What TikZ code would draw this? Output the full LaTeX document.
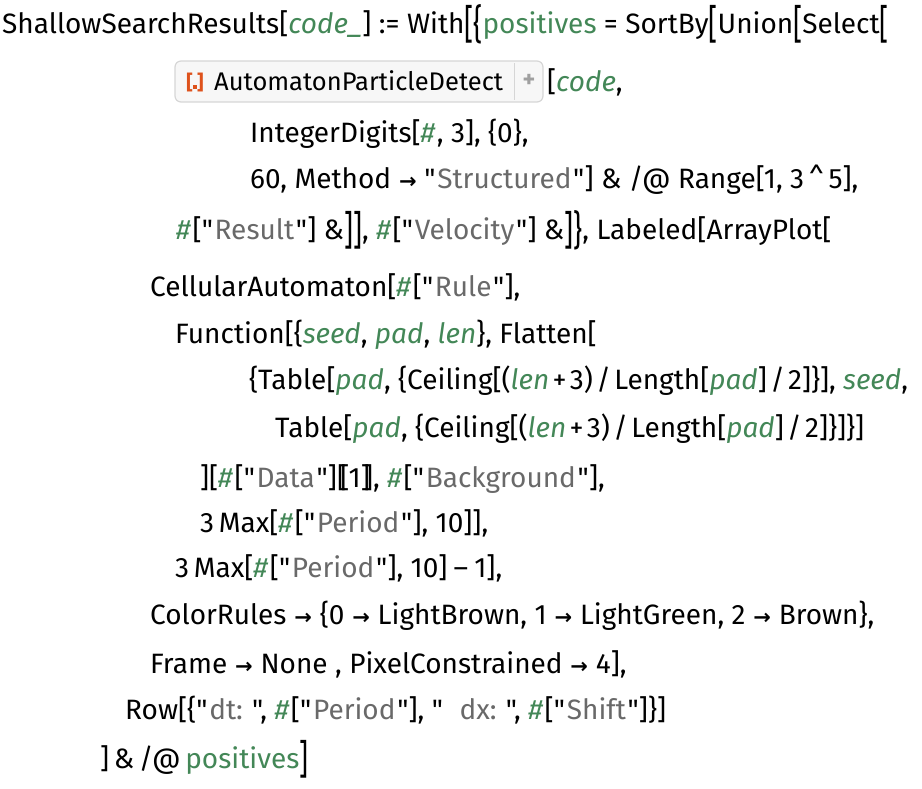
\documentclass[tikz,border=0pt]{standalone}
\usepackage{fontspec}
\setmainfont{Fira Sans}[Ligatures=TeXOff]
\newfontfamily\arrfont{DejaVu Sans}
\usepackage{graphicx}
\usetikzlibrary{positioning}
\definecolor{vargreen}{RGB}{67,135,87}
\definecolor{strgrey}{RGB}{105,105,105}
\definecolor{iconred}{RGB}{222,82,28}
\definecolor{boxfill}{RGB}{247,247,247}
\definecolor{boxedge}{RGB}{214,214,214}
\newcommand{\gv}[1]{\textcolor{vargreen}{\textit{#1}}}
\newcommand{\gn}[1]{\textcolor{vargreen}{#1}}
\newcommand{\slotsym}{\textcolor{vargreen}{\textit{\#}}\kern0.05em}
\newcommand{\strg}[1]{"\kern0.06em\textcolor{strgrey}{#1}\kern0.06em"}
\newcommand{\arr}{\hspace{0.28em}{\arrfont\bfseries\fontsize{21}{21}\selectfont →}\hspace{0.28em}}
\newcommand{\op}[1]{\kern0.12em#1\kern0.12em}
\newcommand{\tallL}{\raisebox{-0.2em}{\scalebox{1}[1.45]{[}}}
\newcommand{\tallLb}{\raisebox{-0.2em}{\scalebox{1}[1.45]{\{}}}
\newcommand{\tallR}{\raisebox{-0.2em}{\scalebox{1}[1.45]{]}}}
\newcommand{\tallRb}{\raisebox{-0.2em}{\scalebox{1}[1.45]{\}}}}
\newcommand{\dbl}[1]{[\kern-0.2em[#1]\kern-0.2em]}
\tikzset{codeline/.style={anchor=base west,inner sep=0pt,font=\fontsize{28}{30}\selectfont},
  apibox/.style={draw=boxedge,fill=boxfill,rounded corners=6pt,line width=1.2pt},
}

\begin{document}
\begin{tikzpicture}[x=1pt,y=-1pt]
\useasboundingbox (0,0) rectangle (922,788);
% the boxed function name
\draw[apibox] (175,61) rectangle (543,102);
\draw[boxedge,line width=1pt] (514,63) -- (514,100);
\node[inner sep=0pt,text=iconred,font=\fontsize{20}{20}\bfseries\selectfont] (icon) at (195,82) {[\rule{0.22em}{0.22em}]};
\node[inner sep=0pt,text=boxedge!75!black,font=\fontsize{24}{24}\bfseries\selectfont] (plus) at (529,81) {+};

\node[codeline] (1) at (2,33) {ShallowSearchResults[\gv{code\_}] := With\tallL\tallLb\gn{positives} = SortBy\tallL Union\tallL Select\tallL};
\node[codeline,font=\fontsize{25.5}{27}\selectfont] (2) at (214,90) {AutomatonParticleDetect};
\node[codeline] (2b) at (547,91) {[\gv{code},};
\node[codeline] (3) at (250,142) {IntegerDigits[\slotsym, 3], \{0\},};
\node[codeline] (4) at (250,188) {60, Method\arr\strg{Structured}] \& /@ Range[1, 3\,\textasciicircum\,5],};
\node[codeline] (5) at (176,239) {\slotsym[\strg{Result}] \&\tallR\tallR, \slotsym[\strg{Velocity}] \&\tallR\tallRb, Labeled[ArrayPlot[};
\node[codeline] (6) at (150,296) {CellularAutomaton[\slotsym[\strg{Rule}],};
\node[codeline] (7) at (175,343) {Function[\{\gv{seed}, \gv{pad}, \gv{len}\}, Flatten[};
\node[codeline] (8) at (249,389) {\{Table[\gv{pad}, \{Ceiling[(\gv{len}\op{+}3)\op{/}Length[\gv{pad}]\op{/}2]\}], \gv{seed},};
\node[codeline] (9) at (275,437) {Table[\gv{pad}, \{Ceiling[(\gv{len}\op{+}3)\op{/}Length[\gv{pad}]\op{/}2]\}]\}]};
\node[codeline] (10) at (200,487) {][\slotsym[\strg{Data}]\dbl{1}, \slotsym[\strg{Background}],};
\node[codeline] (11) at (200,532) {3\,Max[\slotsym[\strg{Period}], 10]],};
\node[codeline] (12) at (175,577) {3\,Max[\slotsym[\strg{Period}], 10]\kern0.22em–\kern0.22em1],};
\node[codeline] (13) at (150,624) {ColorRules\arr\{0\arr LightBrown, 1\arr LightGreen, 2\arr Brown\},};
\node[codeline] (14) at (150,673) {Frame\arr None , PixelConstrained\arr 4],};
\node[codeline] (15) at (125,719) {Row[\{\strg{dt:\ }, \slotsym[\strg{Period}], \strg{\ \ dx:\ }, \slotsym[\strg{Shift}]\}]};
\node[codeline] (16) at (100,768) {]\,\&\,/@\,\gn{positives}\tallR};
\end{tikzpicture}
\end{document}
